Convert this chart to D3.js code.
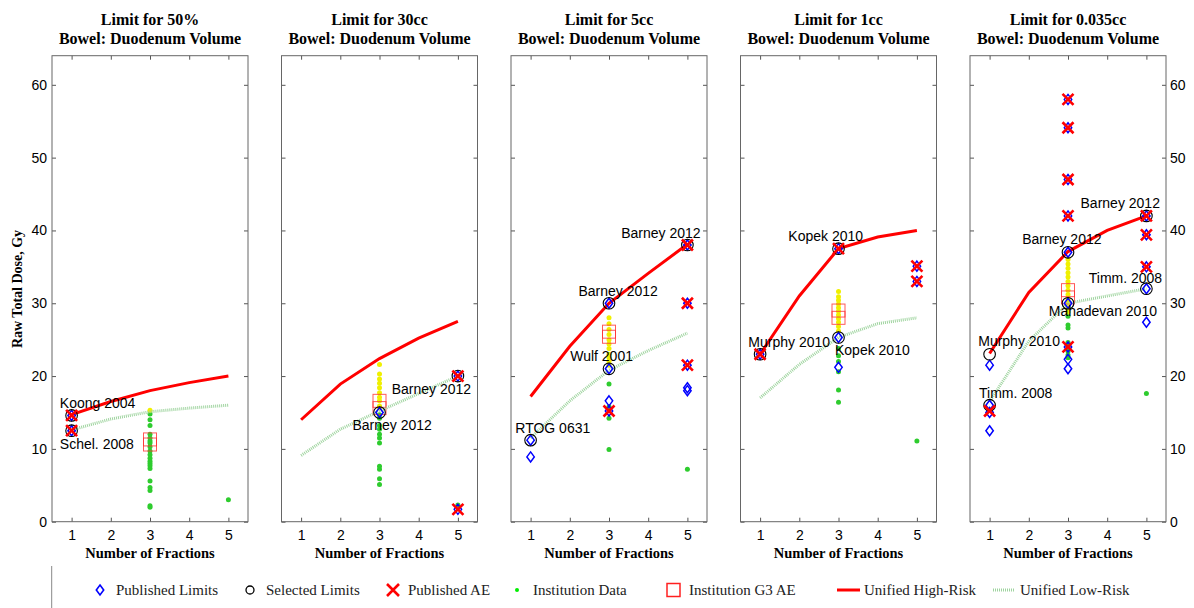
<!DOCTYPE html>
<html>
<head>
<meta charset="utf-8">
<script src="https://cdn.jsdelivr.net/npm/d3@7"></script>
<style>
  body { margin: 0; background: #fff; }
  .serif { font-family: "Liberation Serif", "Times New Roman", serif; }
  .sans { font-family: "Liberation Sans", Arial, sans-serif; }
</style>
</head>
<body>
<script>
// chart values, one row per panel
var titles = ["Limit for 50%", "Limit for 30cc", "Limit for 5cc", "Limit for 1cc", "Limit for 0.035cc"];
var subtitle = "Bowel: Duodenum Volume";
var fractions = [1, 2, 3, 4, 5];
var yTicks = [0, 10, 20, 30, 40, 50, 60];

var highRisk = [
  [14.7, 16.5, 18.0, 19.1, 20.0],
  [14.0, 18.9, 22.4, 25.2, 27.5],
  [17.2, 24.1, 30.0, 34.1, 38.1],
  [23.0, 31.0, 37.5, 39.1, 40.0],
  [23.1, 31.5, 37.1, 40.0, 42.0]
];
var lowRisk = [
  [12.6, 14.1, 15.1, 15.6, 16.0],
  [9.1, 12.7, 15.2, 17.6, 20.0],
  [11.5, 16.6, 20.8, 23.5, 25.9],
  [17.0, 21.6, 25.3, 27.2, 28.0],
  [16.5, 24.8, 30.0, 31.0, 32.0]
];

var publishedLimits = [
  [[1, 14.6], [1, 12.5]],
  [[3, 15.0], [5, 20.0], [5, 1.7]],
  [[1, 11.2], [1, 8.9], [3, 30.0], [3, 21.0], [3, 16.6], [3, 15.2], [5, 38.0], [5, 30.0], [5, 21.5], [5, 18.4], [5, 18.0]],
  [[1, 23.0], [3, 37.5], [3, 25.3], [3, 21.2], [5, 35.1], [5, 33.0]],
  [[1, 21.5], [1, 16.0], [1, 15.0], [1, 12.5], [3, 58.0], [3, 54.1], [3, 47.0], [3, 42.0], [3, 37.0], [3, 30.0],
   [3, 24.0], [3, 22.3], [3, 21.0], [5, 42.0], [5, 39.4], [5, 35.0], [5, 32.0], [5, 27.4]]
];
var selectedLimits = [
  [[1, 14.6], [1, 12.5]],
  [[3, 15.0], [5, 20.0]],
  [[1, 11.2], [3, 30.0], [3, 21.0], [5, 38.0]],
  [[1, 23.0], [3, 37.5], [3, 25.3]],
  [[1, 23.0], [1, 16.0], [3, 37.0], [3, 30.0], [5, 42.0], [5, 32.0]]
];
var publishedAE = [
  [[1, 14.6], [1, 12.5]],
  [[5, 20.0], [5, 1.7]],
  [[3, 15.2], [5, 38.0], [5, 30.0], [5, 21.5]],
  [[1, 23.0], [3, 37.5], [5, 35.1], [5, 33.0]],
  [[1, 15.2], [3, 58.0], [3, 54.1], [3, 47.0], [3, 42.0], [3, 24.0], [5, 42.0], [5, 39.4], [5, 35.0]]
];
var g3AE = [
  [[3, 11.3], [3, 10.6]],
  [[3, 16.6], [3, 15.6]],
  [[3, 26.1], [3, 25.4]],
  [[3, 29.0], [3, 28.0]],
  [[3, 31.8], [3, 30.8]]
];

// institution data at 3 fractions (yellow = between the two curves) and at 5 fractions
var instYellow3 = [
  [15.3],
  [21.6, 20.3, 19.6, 19.0, 18.4, 17.7, 17.1, 16.6, 15.9, 15.6],
  [28.0, 27.2, 26.4, 25.7, 25.0, 24.4, 23.8, 23.0, 22.5, 22.0, 21.5],
  [31.6, 30.9, 30.4, 29.9, 29.4, 28.9, 28.4, 27.9, 27.4, 26.8, 26.2],
  [36.0, 35.4, 34.8, 34.2, 33.6, 33.0, 32.4, 31.8, 31.2, 30.6, 30.0, 29.4, 28.8]
];
var instGreen3 = [
  [14.8, 14.0, 13.2, 12.0, 11.5, 11.1, 10.8, 10.3, 9.7, 9.2, 8.7, 8.3, 8.0, 7.7, 7.3, 5.6, 4.7, 4.3, 2.2, 2.0],
  [14.7, 14.2, 13.2, 12.7, 12.0, 11.5, 10.8, 7.6, 7.2, 5.9, 5.1],
  [18.9, 15.8, 14.2, 9.9],
  [23.8, 22.8, 22.0, 20.6, 18.1, 16.4],
  [28.2, 27.0, 26.6, 24.6, 24.1, 23.4, 22.9, 22.5]
];
var instGreen5 = [[3.0], [2.3], [7.2], [11.1], [17.6]];

var labels = [
  [["Koong 2004", 0.70, 16.3], ["Schel. 2008", 0.70, 10.7]],
  [["Barney 2012", 3.31, 18.2], ["Barney 2012", 2.31, 13.2]],
  [["Barney 2012", 3.31, 39.7], ["Barney 2012", 2.22, 31.7], ["Wulf 2001", 2.01, 22.7], ["RTOG 0631", 0.61, 12.8]],
  [["Kopek 2010", 1.72, 39.2], ["Murphy 2010", 0.70, 24.7], ["Kopek 2010", 2.91, 23.6]],
  [["Barney 2012", 3.32, 43.7], ["Barney 2012", 1.83, 38.8], ["Timm. 2008", 3.53, 33.5],
   ["Mahadevan 2010", 2.51, 28.9], ["Murphy 2010", 0.71, 24.8], ["Timm. 2008", 0.73, 17.6]]
];

var legendNames = ["Published Limits", "Selected Limits", "Published AE", "Institution Data",
                   "Institution G3 AE", "Unified High-Risk", "Unified Low-Risk"];

var width = 1194, height = 608;
var panelW = 196, panelStep = 229.5, firstLeft = 52;
var plotTop = 55.7, plotBottom = 521.7;

var svg = d3.select("body").append("svg")
    .attr("width", width)
    .attr("height", height);

var y = d3.scaleLinear().domain([0, 64]).range([plotBottom, plotTop]);

var diamond = "M0,-5L3.7,0L0,5L-3.7,0Z";
var cross = s => `M${-s},${-s}L${s},${s}M${-s},${s}L${s},${-s}`;

function styleAxis(g, showLabels) {
  g.select(".domain").remove();
  g.selectAll(".tick line").attr("stroke", "#555");
  g.selectAll(".tick text")
    .attr("class", "sans")
    .attr("font-size", 14)
    .attr("fill", "#000")
    .style("display", showLabels ? null : "none");
}

titles.forEach(function(title, i) {
  var left = firstLeft + i * panelStep;
  var x = d3.scaleLinear().domain([0.5, 5.5]).range([left, left + panelW]);
  var g = svg.append("g");

  // titles
  g.append("text").attr("class", "serif")
    .attr("x", left + panelW / 2).attr("y", 25)
    .attr("text-anchor", "middle").attr("font-weight", "bold").attr("font-size", 16)
    .text(title);
  g.append("text").attr("class", "serif")
    .attr("x", left + panelW / 2).attr("y", 44)
    .attr("text-anchor", "middle").attr("font-weight", "bold").attr("font-size", 16)
    .text(subtitle);

  // axes, ticks pointing inwards
  g.append("g").attr("transform", `translate(0,${plotBottom})`)
    .call(d3.axisBottom(x).tickValues(fractions).tickFormat(d3.format("d")).tickSize(-4).tickPadding(8))
    .call(a => styleAxis(a, true));
  g.append("g").attr("transform", `translate(0,${plotTop})`)
    .call(d3.axisTop(x).tickValues(fractions).tickSize(-4).tickFormat(""))
    .call(a => styleAxis(a, false));
  g.append("g").attr("transform", `translate(${left},0)`)
    .call(d3.axisLeft(y).tickValues(yTicks).tickFormat(d3.format("d")).tickSize(-4).tickPadding(5))
    .call(a => styleAxis(a, i === 0));
  g.append("g").attr("transform", `translate(${left + panelW},0)`)
    .call(d3.axisRight(y).tickValues(yTicks).tickFormat(d3.format("d")).tickSize(-4).tickPadding(4))
    .call(a => styleAxis(a, i === titles.length - 1));

  g.append("rect")
    .attr("x", left).attr("y", plotTop)
    .attr("width", panelW).attr("height", plotBottom - plotTop)
    .attr("fill", "none").attr("stroke", "#666");

  g.append("text").attr("class", "serif")
    .attr("x", left + panelW / 2).attr("y", 558)
    .attr("text-anchor", "middle").attr("font-weight", "bold").attr("font-size", 14.5)
    .text("Number of Fractions");

  var line = d3.line().x(d => x(d[0])).y(d => y(d[1]));

  // institution data
  g.selectAll(".green3").data(instGreen3[i]).enter().append("circle")
    .attr("cx", x(3)).attr("cy", d => y(d)).attr("r", 2.5).attr("fill", "#2ecc2e");
  g.selectAll(".green5").data(instGreen5[i]).enter().append("circle")
    .attr("cx", x(5)).attr("cy", d => y(d)).attr("r", 2.5).attr("fill", "#2ecc2e");
  g.selectAll(".yellow3").data(instYellow3[i]).enter().append("circle")
    .attr("cx", x(3)).attr("cy", d => y(d)).attr("r", 2.5).attr("fill", "#f0f000");

  // institution G3 AE
  g.selectAll(".g3").data(g3AE[i]).enter().append("rect")
    .attr("x", d => x(d[0]) - 6.5).attr("y", d => y(d[1]) - 6.5)
    .attr("width", 13).attr("height", 13)
    .attr("fill", "none").attr("stroke", "#ff3030").attr("stroke-opacity", 0.8).attr("stroke-width", 1);

  // unified curves
  g.append("path").datum(fractions.map((f, j) => [f, lowRisk[i][j]]))
    .attr("d", line).attr("fill", "none")
    .attr("stroke", "#9fd49f").attr("stroke-width", 3).attr("stroke-dasharray", "1,1");
  g.append("path").datum(fractions.map((f, j) => [f, highRisk[i][j]]))
    .attr("d", line).attr("fill", "none")
    .attr("stroke", "#ff0000").attr("stroke-width", 3);

  // published limits, selected limits, published AE
  g.selectAll(".pl").data(publishedLimits[i]).enter().append("path")
    .attr("d", diamond)
    .attr("transform", d => `translate(${x(d[0])},${y(d[1])})`)
    .attr("fill", "none").attr("stroke", "#0000ff").attr("stroke-width", 1.5);
  g.selectAll(".sl").data(selectedLimits[i]).enter().append("circle")
    .attr("cx", d => x(d[0])).attr("cy", d => y(d[1])).attr("r", 5.8)
    .attr("fill", "none").attr("stroke", "#000").attr("stroke-width", 1.1);
  g.selectAll(".ae").data(publishedAE[i]).enter().append("path")
    .attr("d", cross(5.5))
    .attr("transform", d => `translate(${x(d[0])},${y(d[1])})`)
    .attr("fill", "none").attr("stroke", "#ff0000").attr("stroke-width", 2.6);

  // study labels
  g.selectAll(".lab").data(labels[i]).enter().append("text")
    .attr("class", "sans")
    .attr("x", d => x(d[1])).attr("y", d => y(d[2]))
    .attr("dy", "0.35em").attr("font-size", 14).attr("fill", "#000")
    .text(d => d[0]);
});

// y label
svg.append("text").attr("class", "serif")
  .attr("transform", "translate(22,289) rotate(-90)")
  .attr("text-anchor", "middle").attr("font-weight", "bold").attr("font-size", 14)
  .text("Raw Total Dose, Gy");

// legend
var lg = svg.append("g");
var ly = 590;
lg.append("line").attr("x1", 51.7).attr("x2", 51.7).attr("y1", 566).attr("y2", 608)
  .attr("stroke", "#888").attr("stroke-width", 1);

var textX = [116, 266, 408, 533, 689, 864, 1020];
lg.append("path").attr("d", diamond).attr("transform", `translate(100,${ly})`)
  .attr("fill", "none").attr("stroke", "#0000ff").attr("stroke-width", 1.6);
lg.append("circle").attr("cx", 250).attr("cy", ly).attr("r", 4)
  .attr("fill", "none").attr("stroke", "#000").attr("stroke-width", 1.3);
lg.append("path").attr("d", cross(6)).attr("transform", `translate(393,${ly})`)
  .attr("stroke", "#ff0000").attr("stroke-width", 2.6);
lg.append("circle").attr("cx", 517).attr("cy", ly).attr("r", 2).attr("fill", "#00ee00");
lg.append("rect").attr("x", 667).attr("y", ly - 6.5).attr("width", 13).attr("height", 13)
  .attr("fill", "none").attr("stroke", "#ff2020").attr("stroke-width", 1.5);
lg.append("line").attr("x1", 837).attr("x2", 860).attr("y1", ly).attr("y2", ly)
  .attr("stroke", "#ff0000").attr("stroke-width", 3);
lg.append("line").attr("x1", 993).attr("x2", 1015).attr("y1", ly).attr("y2", ly)
  .attr("stroke", "#9fd49f").attr("stroke-width", 3).attr("stroke-dasharray", "1,1");

lg.selectAll(".lt").data(legendNames).enter().append("text")
  .attr("class", "serif")
  .attr("x", (d, k) => textX[k]).attr("y", ly).attr("dy", "0.35em")
  .attr("font-size", 15).attr("fill", "#222")
  .text(d => d);
</script>
</body>
</html>
